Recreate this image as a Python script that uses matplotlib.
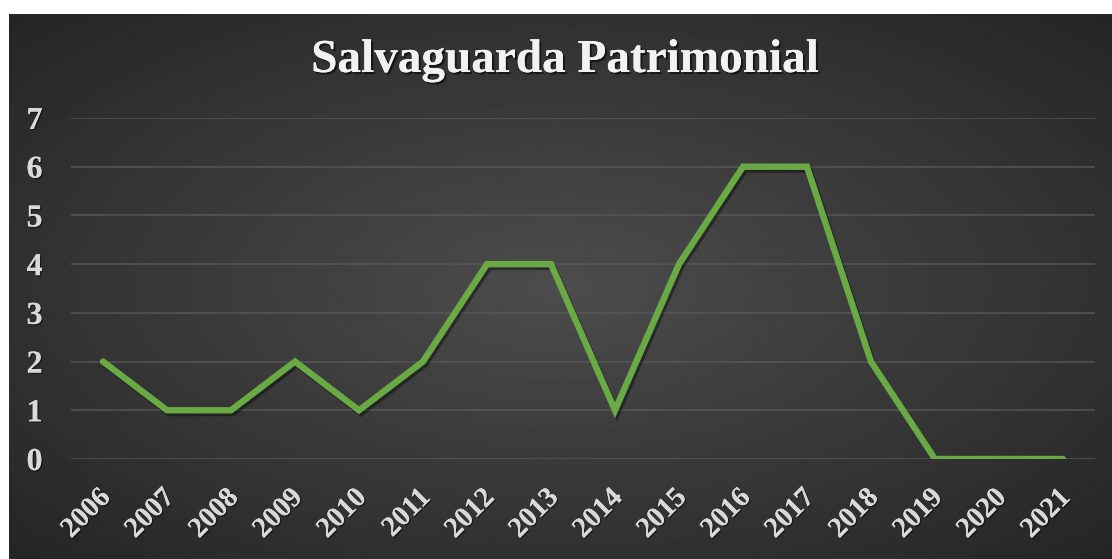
import numpy as np
import matplotlib
matplotlib.use('Agg')
import matplotlib.pyplot as plt
import matplotlib.patheffects as pe
import matplotlib.transforms as mtransforms

years = [str(y) for y in range(2006, 2022)]
values = [2, 1, 1, 2, 1, 2, 4, 4, 1, 4, 6, 6, 2, 0, 0, 0]
yticks = [0, 1, 2, 3, 4, 5, 6, 7]
title = "Salvaguarda Patrimonial"

W, H = 1112, 559
fig = plt.figure(figsize=(W / 100, H / 100), dpi=100)
fig.patch.set_facecolor('white')

# background panel with radial gradient
bg = fig.add_axes([9 / W, 0, (W - 9) / W, (H - 14) / H])
nx, ny = 500, 250
xx, yy = np.meshgrid(np.linspace(-1, 1, nx), np.linspace(-1, 1, ny))
r = np.sqrt(xx ** 2 + yy ** 2) / np.sqrt(2)
lum = 0.30 - 0.155 * r
bg.imshow(lum, cmap='gray', vmin=0, vmax=1, aspect='auto', extent=[0, 1, 0, 1],
          interpolation='bilinear')
bg.set_axis_off()

serif = 'Liberation Serif'
txtcol = '#D9D9D9'
shadow = [pe.withSimplePatchShadow(offset=(1.0, -1.0), shadow_rgbFace='black', alpha=0.45), pe.Normal()]

ax = fig.add_axes([71 / W, 1 - 459 / H, (1095 - 71) / W, (459 - 118) / H])
ax.set_facecolor('none')
x = np.arange(len(years))
ax.plot(x, values, color='#6AAA44', lw=4.6, solid_joinstyle='miter', solid_capstyle='round',
        path_effects=[pe.SimpleLineShadow(offset=(1.5, -2), shadow_color='black', alpha=0.4), pe.Normal()],
        zorder=3)
ax.set_xlim(-0.5, len(years) - 0.5)
ax.set_ylim(0, 7)
ax.set_yticks(yticks)
ax.set_yticklabels([str(v) for v in yticks])
ax.set_xticks(x)
ax.set_xticklabels(years)
ax.grid(axis='y', color='#5A5A5A', lw=1.3, alpha=0.75, zorder=1)
ax.grid(axis='x', visible=False)
for s in ax.spines.values():
    s.set_visible(False)
ax.tick_params(length=0)
ax.tick_params(axis='y', pad=32)
ax.tick_params(axis='x', pad=25)
for lbl in ax.get_yticklabels():
    lbl.set_fontfamily(serif)
    lbl.set_fontweight('bold')
    lbl.set_fontsize(23)
    lbl.set_color(txtcol)
    lbl.set_path_effects(shadow)
    lbl.set_ha('left')
off = mtransforms.ScaledTranslation(0.04, 0, fig.dpi_scale_trans)
for lbl in ax.get_xticklabels():
    lbl.set_fontfamily(serif)
    lbl.set_fontweight('bold')
    lbl.set_fontsize(20.5)
    lbl.set_color(txtcol)
    lbl.set_rotation(45)
    lbl.set_ha('right')
    lbl.set_va('center')
    lbl.set_rotation_mode('anchor')
    lbl.set_path_effects(shadow)
    lbl.set_transform(lbl.get_transform() + off)

fig.text(565 / W, 1 - 61 / H, title, ha='center', va='center', fontfamily=serif,
         fontweight='bold', fontsize=34, color='#F2F2F2',
         path_effects=[pe.withSimplePatchShadow(offset=(1.5, -1.5), shadow_rgbFace='black', alpha=0.55), pe.Normal()])

fig.savefig('out.png', dpi=100, facecolor='white')
